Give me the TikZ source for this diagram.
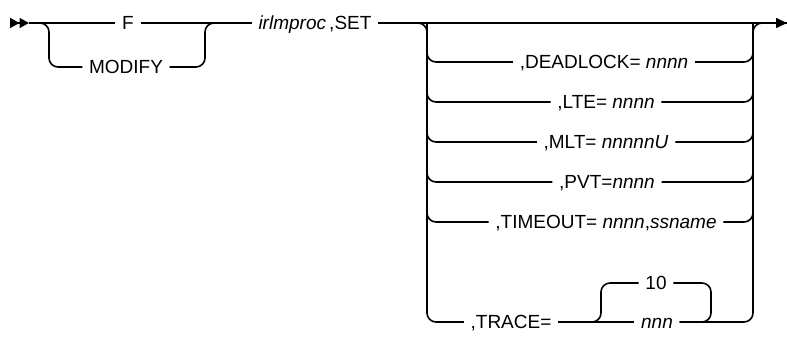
\documentclass[tikz,border=0pt]{standalone}
\usepackage{fontspec}
\setmainfont{Liberation Sans}
\usetikzlibrary{arrows.meta}
\begin{document}
\begin{tikzpicture}[x=1pt,y=-1pt,line width=1.6pt,
  lbl/.style={font=\fontsize{19}{21}\selectfont,text height=13.5pt,text depth=0pt,inner xsep=6pt,inner ysep=0pt},
  rc/.style={rounded corners=9pt}]
\useasboundingbox (0,0) rectangle (787,339);
% coordinates
\coordinate (s0) at (10,23);
\coordinate (s1) at (29,23);
\coordinate (e) at (787,23);
\coordinate (L1) at (49,23);
\coordinate (R1) at (205,23);
\coordinate (BL) at (427,23);
\coordinate (BR) at (753,23);
% nodes
\node[lbl] (F) at (128,23) {F};
\node[lbl] (MOD) at (126,67) {MODIFY};
\node[lbl] (irl) at (315,23) {\textit{irlmproc}\,,SET};
\node[lbl] (D) at (604,62) {,DEADLOCK= \textit{nnnn}};
\node[lbl] (LTE) at (606,102) {,LTE= \textit{nnnn}};
\node[lbl] (MLT) at (606,142) {,MLT= \textit{nnnnnU}};
\node[lbl] (PVT) at (607,182) {,PVT=\textit{nnnn}};
\node[lbl] (TO) at (606,222) {,TIMEOUT= \textit{nnnn},\textit{ssname}};
\node[lbl] (TR) at (511,322) {,TRACE=};
\node[lbl] (ten) at (656,283) {10};
\node[lbl] (nnn) at (657,322) {\textit{nnn}};
\coordinate (IL) at (601,322);
\coordinate (IR) at (711,322);
% start
\draw[-{Triangle[length=9.5pt,width=10pt]Triangle[length=9.5pt,width=10pt]}] (s0) -- (s1);
\draw (s1) -- (F.west);
\draw (F.east) -- (irl.west);
\draw[rc] (s1) -- (L1) -- (L1 |- MOD) -- (MOD.west);
\draw[rc] (MOD.east) -- (R1 |- MOD) -- (R1) -- (irl.west);
% main line
\draw[-{Triangle[length=11pt,width=10pt]}] (irl.east) -- (e);
% left stack
\draw[rc] (irl.east) -- (BL) -- (BL |- TR) -- (TR.west);
\foreach \r in {D,LTE,MLT,PVT,TO}{
  \draw[rc] (BL) -- (BL |- \r) -- (\r.west);
  \draw[rc] (\r.east) -- (BR |- \r) -- (BR);
}
\draw[rc] (nnn.east) -- (BR |- nnn) -- (BR) -- (e);
% trace sub-choice
\draw (TR.east) -- (nnn.west);
\draw[rc] (TR.east) -- (IL) -- (IL |- ten) -- (ten.west);
\draw[rc] (ten.east) -- (IR |- ten) -- (IR) -- (nnn.east);
\end{tikzpicture}
\end{document}
